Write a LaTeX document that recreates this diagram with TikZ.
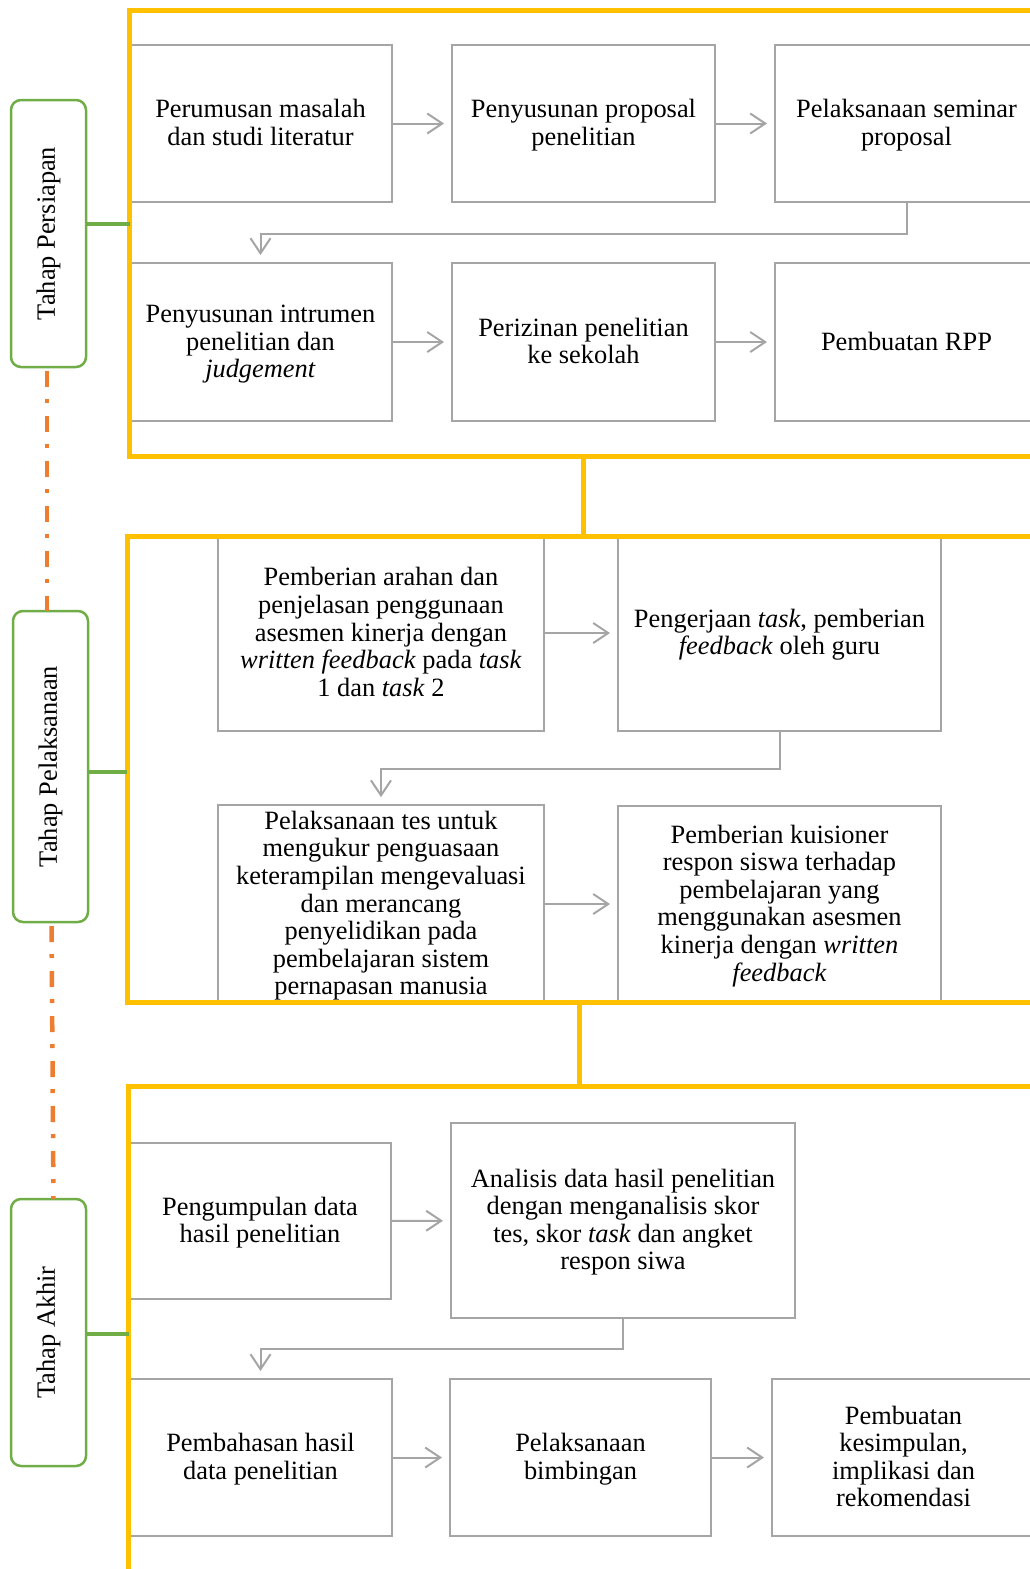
\documentclass[tikz,border=0pt]{standalone}
\usepackage{fontspec}
\setmainfont{Liberation Serif}
\usetikzlibrary{arrows.meta}
\definecolor{frameor}{HTML}{FFC000}
\definecolor{dashor}{HTML}{ED7D31}
\definecolor{grn}{HTML}{70AD47}
\definecolor{boxgr}{HTML}{A5A5A5}
\newcommand\fst{\rule{0pt}{24pt}}
\begin{document}
\begin{tikzpicture}[x=1pt,y=-1pt,
  txt/.style={font=\fontsize{26.4}{27.6}\selectfont},
  box/.style={draw=boxgr,line width=2pt,align=center,inner sep=0pt,txt,
    execute at end node={\rule[-8pt]{0pt}{8pt}}},
  arr/.style={draw=boxgr,line width=2pt,-{Straight Barb[length=15pt,width=20pt]},shorten >=7pt},
  orframe/.style={draw=frameor,line width=5pt,line join=miter},
  lab/.style={draw=grn,line width=2.5pt,rounded corners=10pt,rotate=90,inner sep=0pt,align=center,txt},
  gline/.style={draw=grn,line width=4pt},
  dline/.style={draw=dashor,line width=4.5pt,dash pattern=on 16pt off 12pt on 4pt off 13pt,dash phase=41pt}]
\useasboundingbox (0,0) rectangle (1030,1569);
\clip (0,0) rectangle (1030,1569);

% ---- Tahap Persiapan boxes
\node[box,minimum width=263pt,minimum height=157pt] (b1) at (260.5,123.5) {\fst Perumusan masalah\\dan studi literatur};
\node[box,minimum width=263pt,minimum height=157pt] (b2) at (583.5,123.5) {\fst Penyusunan proposal\\penelitian};
\node[box,minimum width=263pt,minimum height=157pt] (b3) at (906.5,123.5) {\fst Pelaksanaan seminar\\proposal};
\node[box,minimum width=263pt,minimum height=158pt] (b4) at (260.5,342) {\fst Penyusunan intrumen\\penelitian dan\\\textit{judgement}};
\node[box,minimum width=263pt,minimum height=158pt] (b5) at (583.5,342) {\fst Perizinan penelitian\\ke sekolah};
\node[box,minimum width=263pt,minimum height=158pt] (b6) at (906.5,342) {\fst Pembuatan RPP};
\draw[arr] (b1) -- (b2);
\draw[arr] (b2) -- (b3);
\draw[arr] (b3.south) -- ++(0,31) -| (b4.north);
\draw[arr] (b4) -- (b5);
\draw[arr] (b5) -- (b6);

% ---- Tahap Pelaksanaan boxes
\node[box,minimum width=326pt,minimum height=196pt] (b7) at (381,633) {\fst Pemberian arahan dan\\penjelasan penggunaan\\asesmen kinerja dengan\\\textit{written feedback} pada \textit{task}\\1 dan \textit{task} 2};
\node[box,minimum width=323pt,minimum height=196pt] (b8) at (779.5,633) {\fst Pengerjaan \textit{task}, pemberian\\\textit{feedback} oleh guru};
\node[box,minimum width=326pt,minimum height=196pt] (b9) at (381,904) {\fst Pelaksanaan tes untuk\\mengukur penguasaan\\keterampilan mengevaluasi\\dan merancang\\penyelidikan pada\\pembelajaran sistem\\pernapasan manusia};
\node[box,minimum width=323pt,minimum height=196pt] (b10) at (779.5,904) {\fst Pemberian kuisioner\\respon siswa terhadap\\pembelajaran yang\\menggunakan asesmen\\kinerja dengan \textit{written}\\\textit{feedback}};
\draw[arr] (b7) -- (b8);
\draw[arr] (b8.south) -- ++(0,37) -| (b9.north);
\draw[arr] (b9) -- (b10);

% ---- Tahap Akhir boxes
\node[box,minimum width=262pt,minimum height=156pt] (b11) at (260,1221) {\fst Pengumpulan data\\hasil penelitian};
\node[box,minimum width=344pt,minimum height=195pt] (b12) at (623,1220.5) {\fst Analisis data hasil penelitian\\dengan menganalisis skor\\tes, skor \textit{task} dan angket\\respon siwa};
\node[box,minimum width=263pt,minimum height=157pt] (b13) at (260.5,1457.5) {\fst Pembahasan hasil\\data penelitian};
\node[box,minimum width=261pt,minimum height=157pt] (b14) at (580.5,1457.5) {\fst Pelaksanaan\\bimbingan};
\node[box,minimum width=263pt,minimum height=157pt] (b15) at (903.5,1457.5) {\fst Pembuatan\\kesimpulan,\\implikasi dan\\rekomendasi};
\draw[arr] (b11) -- (b12);
\draw[arr] (b12.south) -- ++(0,30) -| (b13.north);
\draw[arr] (b13) -- (b14);
\draw[arr] (b14) -- (b15);

% ---- orange frames
\coordinate (f1b) at (583,456);
\coordinate (f2t) at (583,536);
\coordinate (f2b) at (579,1002);
\coordinate (f3t) at (579,1086);
\draw[orframe] (1045,10) -- (129.5,10) -- (129.5,456) -- (1045,456);
\draw[orframe] (1045,536) -- (127,536) -- (127,1002) -- (1045,1002);
\draw[orframe] (1045,1086) -- (128.5,1086) -- (128.5,1580);
\draw[orframe] (f1b) -- (f2t);
\draw[orframe] (f2b) -- (f3t);

% ---- stage labels
\node[lab,minimum width=267pt,minimum height=75pt] (L1) at (48.5,233.5) {Tahap Persiapan};
\node[lab,minimum width=311pt,minimum height=75pt] (L2) at (50.5,766.5) {Tahap Pelaksanaan};
\node[lab,minimum width=267pt,minimum height=75pt] (L3) at (48.5,1332.5) {Tahap Akhir};
\coordinate (L1r) at (86,224);   \coordinate (F1l) at (129.5,224);
\coordinate (L2r) at (88,772);   \coordinate (F2l) at (127,772);
\coordinate (L3r) at (86,1334);  \coordinate (F3l) at (128.5,1334);
\draw[gline] (L1r) -- (F1l);
\draw[gline] (L2r) -- (F2l);
\draw[gline] (L3r) -- (F3l);
\coordinate (L1s) at (47,367);   \coordinate (L2n) at (47,611);
\coordinate (L2s) at (51.5,922); \coordinate (L3n) at (53.5,1199);
\draw[dline] (L1s) -- (L2n);
\draw[dline] (L2s) -- (L3n);
\end{tikzpicture}
\end{document}
